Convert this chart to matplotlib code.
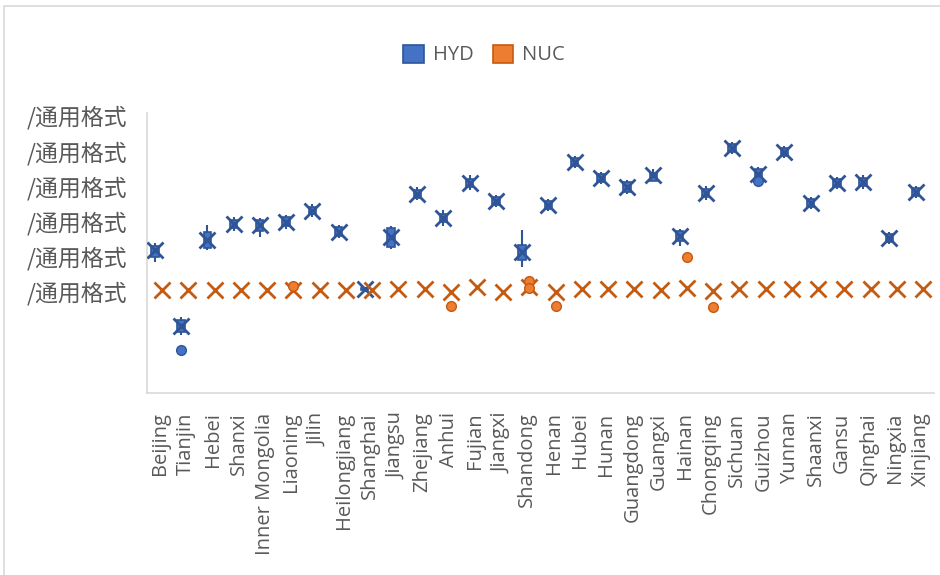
import matplotlib
matplotlib.use("Agg")
import matplotlib.pyplot as plt
from matplotlib.patches import Patch, Rectangle

provinces = ["Beijing", "Tianjin", "Hebei", "Shanxi", "Inner Mongolia", "Liaoning", "Jilin",
             "Heilongjiang", "Shanghai", "Jiangsu", "Zhejiang", "Anhui", "Fujian", "Jiangxi",
             "Shandong", "Henan", "Hubei", "Hunan", "Guangdong", "Guangxi", "Hainan",
             "Chongqing", "Sichuan", "Guizhou", "Yunnan", "Shaanxi", "Gansu", "Qinghai",
             "Ningxia", "Xinjiang"]

# HYD series (box & whisker statistics)
hyd_mean = [1.18, -0.98, 1.46, 1.92, 1.89, 1.97, 2.30, 1.69, 0.07, 1.55, 2.77, 2.09, 3.08, 2.57,
            1.12, 2.46, 3.68, 3.22, 2.97, 3.31, 1.58, 2.80, 4.08, 3.34, 3.96, 2.51, 3.08, 3.11,
            1.52, 2.83]
hyd_q3 = [1.30, -0.81, 1.69, 2.03, 2.03, 2.12, 2.41, 1.83, 0.10, 1.80, 2.88, 2.20, 3.20, 2.68,
          1.32, 2.57, 3.79, 3.34, 3.11, 3.37, 1.72, 2.91, 4.19, 3.48, 4.08, 2.63, 3.20, 3.22,
          1.63, 2.94]
hyd_q1 = [0.98, -1.15, 1.24, 1.80, 1.72, 1.86, 2.20, 1.58, 0.04, 1.26, 2.66, 1.97, 2.97, 2.46,
          0.89, 2.34, 3.57, 3.11, 2.83, 3.15, 1.43, 2.68, 3.96, 3.17, 3.85, 2.40, 2.97, 3.00,
          1.41, 2.71]
hyd_max = [1.38, -0.72, 1.89, 2.12, 2.09, 2.17, 2.49, 1.89, 0.10, 1.86, 2.97, 2.32, 3.31, 2.74,
           1.75, 2.63, 3.85, 3.40, 3.17, 3.48, 1.78, 3.00, 4.25, 3.54, 4.13, 2.68, 3.25, 3.31,
           1.69, 3.00]
hyd_min = [0.84, -1.24, 1.18, 1.72, 1.55, 1.78, 2.12, 1.52, 0.04, 1.21, 2.60, 1.86, 2.88, 2.40,
           0.70, 2.29, 3.51, 3.05, 2.77, 3.14, 1.29, 2.60, 3.91, 3.08, 3.79, 2.34, 2.91, 2.91,
           1.35, 2.66]
hyd_outlier_idx = [1, 23]
hyd_outlier_val = [-1.66, 3.14]

# NUC series
nuc_mean = [0.04, 0.04, 0.04, 0.04, 0.04, 0.04, 0.04, 0.04, 0.04, 0.07, 0.07, -0.01, 0.13, -0.01,
            0.13, -0.01, 0.07, 0.07, 0.07, 0.04, 0.10, 0.01, 0.07, 0.07, 0.07, 0.07, 0.07, 0.07,
            0.07, 0.07]
nuc_outlier_idx = [5, 11, 14, 14, 15, 20, 21]
nuc_outlier_val = [0.16, -0.41, 0.30, 0.10, -0.41, 0.98, -0.44]

y_ticks = [0, 1, 2, 3, 4, 5]
y_ticklabels = ["/通用格式"] * 6

BLUE = "#4472C4"
BLUE_D = "#2F5597"
ORANGE = "#ED7D31"
ORANGE_D = "#C55A11"
GRAY = "#595959"

fig = plt.figure(figsize=(9.4, 5.75), dpi=100)
ax = fig.add_axes([147/940, 1-393/575, (934-147)/940, (393-113)/575])

x = list(range(len(provinces)))
xh = [i - 0.20 for i in x]
xn = [i + 0.08 for i in x]

# HYD boxes, whiskers, means, outliers
ax.vlines(xh, hyd_min, hyd_max, color=BLUE_D, lw=1.5, zorder=2)
ax.bar(xh, [a - b for a, b in zip(hyd_q3, hyd_q1)], bottom=hyd_q1, width=0.28,
       color=BLUE, edgecolor=BLUE_D, lw=1.2, zorder=3)
ax.plot(xh, hyd_mean, linestyle="none", marker="x", ms=11, mew=2, color=BLUE_D, zorder=4)
ax.plot([xh[i] for i in hyd_outlier_idx], hyd_outlier_val, linestyle="none", marker="o",
        ms=7, mfc=BLUE, mec=BLUE_D, mew=1, zorder=4)

# NUC means, outliers
ax.plot(xn, nuc_mean, linestyle="none", marker="x", ms=12, mew=2, color=ORANGE_D, zorder=4)
ax.plot([xn[i] for i in nuc_outlier_idx], nuc_outlier_val, linestyle="none", marker="o",
        ms=7, mfc=ORANGE, mec=ORANGE_D, mew=1, zorder=5)

ax.set_xlim(-0.5, len(provinces) - 0.5)
ax.set_ylim(-2.88, 5.07)
ax.set_yticks(y_ticks)
ax.set_yticklabels(y_ticklabels, family=["Noto Sans CJK SC", "DejaVu Sans"], fontsize=16.5,
                   color=GRAY)
ax.set_xticks(x)
ax.set_xticklabels(provinces, rotation=90, family="Open Sans", fontsize=14.5, color=GRAY)
ax.tick_params(axis="y", length=0, pad=14)
ax.tick_params(axis="x", length=0, pad=14)
for s in ["top", "right"]:
    ax.spines[s].set_visible(False)
for s in ["left", "bottom"]:
    ax.spines[s].set_color("#D9D9D9")
    ax.spines[s].set_linewidth(1.2)

handles = [Patch(facecolor=BLUE, edgecolor=BLUE_D, lw=1.2),
           Patch(facecolor=ORANGE, edgecolor=ORANGE_D, lw=1.2)]
leg = fig.legend(handles, ["HYD", "NUC"], loc="center", bbox_to_anchor=(484/940, 1-55/575),
                 ncol=2, frameon=False, handlelength=1.0, handleheight=1.0,
                 handletextpad=0.45, columnspacing=0.95,
                 prop={"family": "Open Sans", "size": 14.5})
for t in leg.get_texts():
    t.set_color(GRAY)

fig.add_artist(Rectangle((4/940, -0.05), 1.1, 1 - 6/575 + 0.05, transform=fig.transFigure,
                         fill=False, ec="#D9D9D9", lw=1.2))

fig.savefig("out.png", dpi=100)
